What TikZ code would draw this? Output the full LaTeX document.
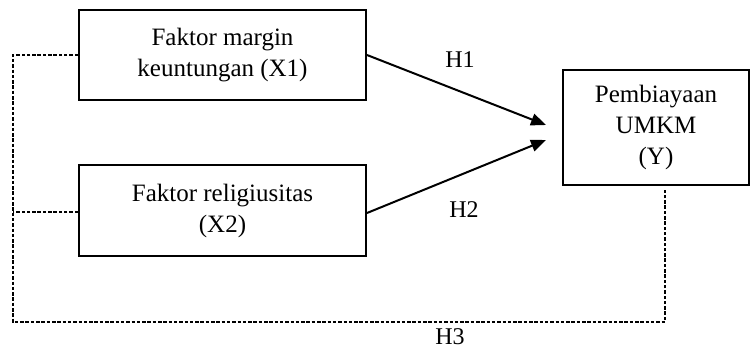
\documentclass[tikz,border=0pt]{standalone}
\usepackage{fontspec}
\setmainfont{Liberation Serif}
\usetikzlibrary{arrows.meta}
\begin{document}
\begin{tikzpicture}[x=1pt,y=1pt,
  varbox/.style={draw=black,line width=2pt,align=center,inner sep=0pt,
    font=\fontsize{25}{31}\selectfont},
  hlabel/.style={font=\fontsize{24}{28}\selectfont,inner sep=0pt},
  dashline/.style={line width=1.6pt,dash pattern=on 3.5pt off 1.8pt},
  arr/.style={line width=2pt,-{Triangle[length=15pt,width=12pt]}}]
\useasboundingbox (0,0) rectangle (751,349);
\node[varbox,minimum width=287pt,minimum height=90pt] (x1) at (222.5,294) {Faktor margin\\keuntungan (X1)};
\node[varbox,minimum width=287pt,minimum height=91pt] (x2) at (222.5,138.5) {Faktor religiusitas\\(X2)};
\node[varbox,minimum width=186pt,minimum height=115pt] (y) at (656,221.5) {Pembiayaan\\UMKM\\(Y)};
\coordinate (t1) at (546,224);
\coordinate (t2) at (546,209);
\draw[arr] (x1.east) -- (t1);
\draw[arr] (x2.east |- 0,136) -- (t2);
\node[hlabel] (h1) at (460,289) {H1};
\node[hlabel] (h2) at (464,139) {H2};
\node[hlabel] (h3) at (450,12.5) {H3};
\coordinate (c1) at (13,294);
\coordinate (c2) at (13,27);
\coordinate (c3) at (665,27);
\coordinate (c4) at (665,159);
\coordinate (c5) at (13,137);
\draw[dashline] (x1.west) -- (c1) -- (c2) -- (c3) -- (c4);
\draw[dashline] (x2.west |- c5) -- (c5);
\end{tikzpicture}
\end{document}
